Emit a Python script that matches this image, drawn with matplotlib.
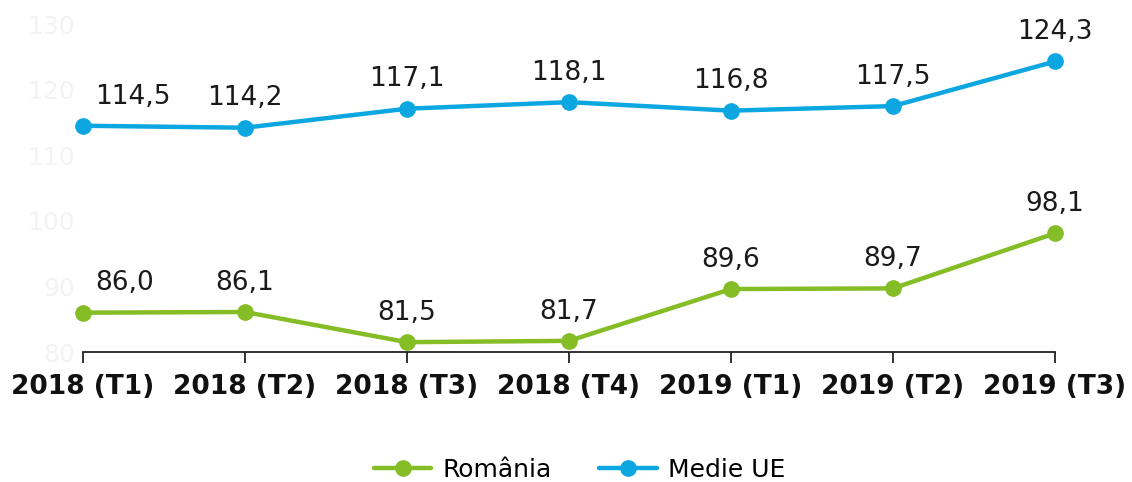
import matplotlib
matplotlib.use("Agg")
import matplotlib.pyplot as plt

categories = ["2018 (T1)", "2018 (T2)", "2018 (T3)", "2018 (T4)",
              "2019 (T1)", "2019 (T2)", "2019 (T3)"]
romania = [86.0, 86.1, 81.5, 81.7, 89.6, 89.7, 98.1]
medie_ue = [114.5, 114.2, 117.1, 118.1, 116.8, 117.5, 124.3]
y_ticks = [80, 90, 100, 110, 120, 130]

GREEN = "#84bd26"
BLUE = "#0ca6e0"

plt.rcParams["font.family"] = ["DejaVu Sans"]

fig = plt.figure(figsize=(11.32, 4.82), dpi=100)
ax = fig.add_axes([0.0733, 0.2697, 0.8587, 0.6803])

x = list(range(len(categories)))
ax.plot(x, romania, color=GREEN, lw=3.2, marker="o", ms=11, label="România",
        solid_capstyle="round", clip_on=False, zorder=3)
ax.plot(x, medie_ue, color=BLUE, lw=3.2, marker="o", ms=11, label="Medie UE",
        solid_capstyle="round", clip_on=False, zorder=3)

def fmt(v):
    return f"{v:.1f}".replace(".", ",")

for series in (romania, medie_ue):
    for i, v in enumerate(series):
        if i == 0:
            ax.annotate(fmt(v), (i, v), xytext=(9, 16), textcoords="offset points",
                        ha="left", va="baseline", fontsize=19, color="#1a1a1a")
        else:
            ax.annotate(fmt(v), (i, v), xytext=(0, 16), textcoords="offset points",
                        ha="center", va="baseline", fontsize=19, color="#1a1a1a")

ax.set_xlim(0, len(categories) - 1)
ax.set_ylim(80, 130)
ax.set_xticks(x)
ax.set_xticklabels(categories, fontsize=19, fontweight="bold", color="#111111")
ax.set_yticks(y_ticks)
ax.set_yticklabels([str(t) for t in y_ticks], fontsize=18, color="#f3f3f3")

for s in ("top", "right", "left"):
    ax.spines[s].set_visible(False)
ax.spines["bottom"].set_color("#222222")
ax.spines["bottom"].set_linewidth(1.3)
ax.tick_params(axis="x", direction="out", length=8, width=1.3, color="#222222", pad=8)
ax.tick_params(axis="y", length=0, pad=6)

fig.legend(loc="lower center", ncol=2, frameon=False, fontsize=18,
           bbox_to_anchor=(0.512, -0.047), handlelength=2.3, columnspacing=1.9,
           handletextpad=0.45)

fig.savefig("out.png", dpi=100)
